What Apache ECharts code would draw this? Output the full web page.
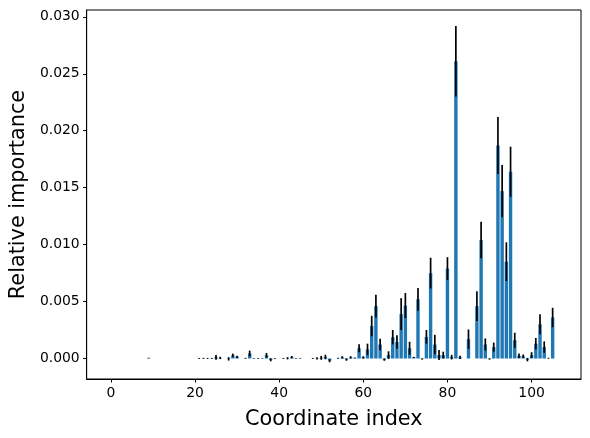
<!DOCTYPE html>
<html>
<head>
<meta charset="utf-8">
<script src="https://cdn.jsdelivr.net/npm/echarts@6/dist/echarts.min.js"></script>
<style>
  html, body { margin: 0; padding: 0; background: #fff; }
  #chart { width: 590px; height: 438px; }
</style>
</head>
<body>
<div id="chart"></div>
<script>
// relative importance per coordinate index (0..106)
var values = [
  0, 0, 0, 0, 0, 0, 0, 0, 0, 0.00005,
  0, 0, 0, 0, 0, 0, 0, 0, 0, 0,
  0, 0.00001, 0.00002, 0.00001, 0.00001, 0.0001, 0.00005, 0, -0.00003, 0.00028,
  0.00015, 0, 0.00002, 0.00044, 0.00003, 0.00001, 0.00003, 0.00028, -0.00012, 0.00001,
  0, 0.00001, 0.00002, 0.00012, 0.00003, 0.00003, 0, 0, 0.00001, 0.00002,
  0.00006, 0.00013, -0.0002, 0, 0.00002, 0.0001, -0.0001, 0.0001, 0.00005, 0.0009,
  0.0001, 0.0008, 0.00285, 0.0046, 0.00123, -0.0001, 0.0003, 0.00187, 0.00145, 0.0039,
  0.00465, 0.0009, 0.0001, 0.0052, -0.00005, 0.0019, 0.0075, 0.00123, 0.0003, 0.0003,
  0.0079, 0.00012, 0.0261, 0.0001, 0, 0.0017, 0, 0.0046, 0.0104, 0.00123,
  -0.00005, 0.001, 0.0187, 0.0147, 0.0085, 0.0164, 0.0016, 0.00025, 0.0002, -0.0001,
  0.0003, 0.0013, 0.003, 0.001, 0.00002, 0.0036, 0
];
var errors = [
  0, 0, 0, 0, 0, 0, 0, 0, 0, 0.00002,
  0, 0, 0, 0, 0, 0, 0, 0, 0, 0,
  0, 0.00004, 0.00004, 0.00004, 0.00004, 0.0002, 0.0001, 0, 0.00015, 0.00015,
  0.0001, 0, 0.00004, 0.00025, 0.00002, 0.00004, 0.00002, 0.0002, 0.00013, 0.00004,
  0, 0.00004, 0.0001, 0.0001, 0.00002, 0.00002, 0, 0, 0.00004, 0.0001,
  0.00017, 0.0002, 0.00013, 0, 0.00004, 0.0001, 0.0001, 0.0001, 0.00003, 0.00035,
  0.0001, 0.0005, 0.0009, 0.001, 0.0005, 0.0001, 0.00033, 0.00063, 0.0006, 0.0014,
  0.0011, 0.00057, 0.00005, 0.001, 0.00005, 0.0006, 0.00135, 0.00085, 0.00044, 0.0003,
  0.001, 0.0002, 0.0031, 0.00015, 0, 0.00085, 0, 0.0013, 0.0016, 0.00053,
  0.00005, 0.0004, 0.0025, 0.0023, 0.0017, 0.0022, 0.00066, 0.0002, 0.00015, 0.00015,
  0.00025, 0.0005, 0.00088, 0.0005, 0.00004, 0.00085, 0
];
var xTicks = [0, 20, 40, 60, 80, 100];
var yTicks = [0, 0.005, 0.01, 0.015, 0.02, 0.025, 0.03];

var barData = [];
var errData = [];
for (var i = 0; i < values.length; i++) {
  barData.push([i, values[i]]);
  if (errors[i] > 0) {
    errData.push([i, values[i] - errors[i], values[i] + errors[i]]);
  }
}

var chart = echarts.init(document.getElementById('chart'));
var font = 'DejaVu Sans';

var option = {
  animation: false,
  grid: {
    left: 85, right: 9, top: 10, bottom: 59,
    show: true, borderColor: '#000', borderWidth: 1
  },
  xAxis: {
    type: 'value',
    min: -5.74, max: 111.74,
    name: 'Coordinate index',
    nameLocation: 'middle',
    nameGap: 30,
    nameTextStyle: { fontFamily: font, fontSize: 20.8, color: '#000' },
    splitLine: { show: false },
    axisLine: { show: true, onZero: false, lineStyle: { color: '#000', width: 1 } },
    axisTick: { show: true, length: 3.5, customValues: xTicks, lineStyle: { color: '#000' } },
    axisLabel: {
      customValues: xTicks, margin: 7,
      fontFamily: font, fontSize: 13.9, color: '#000'
    }
  },
  yAxis: {
    type: 'value',
    min: -0.0018, max: 0.0306,
    name: 'Relative importance',
    nameLocation: 'middle',
    nameGap: 48,
    nameTextStyle: { fontFamily: font, fontSize: 20.8, color: '#000' },
    splitLine: { show: false },
    axisLine: { show: true, onZero: false, lineStyle: { color: '#000', width: 1 } },
    axisTick: { show: true, length: 3.5, customValues: yTicks, lineStyle: { color: '#000' } },
    axisLabel: {
      customValues: yTicks, margin: 7,
      fontFamily: font, fontSize: 13.9, color: '#000',
      formatter: function (v) { return v.toFixed(3); }
    }
  },
  series: [
    {
      type: 'bar',
      barWidth: 3.4,
      itemStyle: { color: '#1f77b4' },
      data: barData
    },
    {
      type: 'custom',
      z: 5,
      encode: { x: 0, y: [1, 2] },
      renderItem: function (params, api) {
        var lo = api.coord([api.value(0), api.value(1)]);
        var hi = api.coord([api.value(0), api.value(2)]);
        return {
          type: 'line',
          shape: { x1: lo[0], y1: lo[1], x2: hi[0], y2: hi[1] },
          style: { stroke: '#000', lineWidth: 1.7 }
        };
      },
      data: errData
    }
  ]
};

chart.setOption(option);
</script>
</body>
</html>
